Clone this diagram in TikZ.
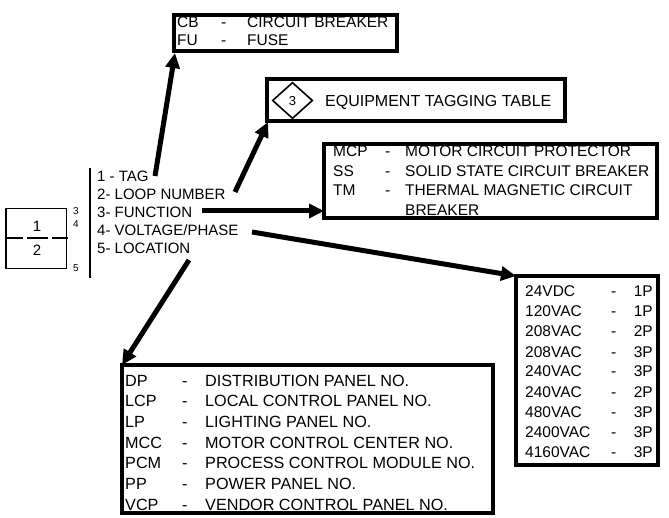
\documentclass[tikz,border=0pt]{standalone}
\usepackage{fontspec}
\setmainfont{Liberation Sans}
\usetikzlibrary{arrows.meta}
\tikzset{
  tbox/.style={draw, line width=4.5pt, inner sep=0pt, outer sep=0pt},
  tx/.style={anchor=base west, inner sep=0pt, font=\fontsize{15.5}{18}\selectfont},
  txr/.style={anchor=base east, inner sep=0pt, font=\fontsize{15.5}{18}\selectfont},
  lt/.style={anchor=base west, inner sep=0pt, font=\fontsize{16.2}{19}\selectfont},
  li/.style={anchor=base west, inner sep=0pt, font=\fontsize{15}{18}\selectfont},
  sm/.style={anchor=base, inner sep=0pt, font=\fontsize{10}{12}\selectfont},
  arr/.style={line width=5pt, -{Triangle[length=15pt,width=14pt]}},
}
\begin{document}
\begin{tikzpicture}[x=1pt,y=-1pt]
\useasboundingbox (0,0) rectangle (669,518);

% tag symbol
\node[draw, line width=1.2pt, minimum width=60.7pt, minimum height=59.6pt, inner sep=0pt] (sym) at (36.4,238.5) {};
\draw[line width=2.4pt, dash pattern=on 16.6pt off 3.6pt on 20.6pt off 4.4pt on 16.6pt off 10pt] (6.7,238.3) -- (68.3,238.3);
\node[anchor=base, inner sep=0pt, font=\fontsize{15}{18}\selectfont] (n1) at (37,231.7) {1};
\node[anchor=base, inner sep=0pt, font=\fontsize{15}{18}\selectfont] (n2) at (37,256) {2};
\node[sm] (s3) at (76,215) {3};
\node[sm] (s4) at (76,228) {4};
\node[sm] (s5) at (76,271.7) {5};
\draw[line width=1.2pt] (90,168.3) -- (90,277.7);

% list
\node[li] (l1) at (97,181.5) {1 - TAG};
\node[li] (l2) at (97,199.5) {2- LOOP NUMBER};
\node[li] (l3) at (97,217.5) {3- FUNCTION};
\node[li] (l4) at (97,235.5) {4- VOLTAGE/PHASE};
\node[li] (l5) at (97,253.5) {5- LOCATION};

% boxes
\node[tbox, minimum width=223pt, minimum height=36pt] (cb) at (285.5,33) {};
\node[tbox, minimum width=298pt, minimum height=42pt] (eq) at (416,100) {};
\node[tbox, minimum width=333pt, minimum height=74pt] (mcp) at (490.5,181) {};
\node[tbox, minimum width=142pt, minimum height=189pt] (volt) at (587,370.5) {};
\node[tbox, minimum width=371pt, minimum height=148pt] (loc) at (307.5,439) {};

% CB box text
\node[tx] (cb1a) at (177,27.5) {CB};
\node[tx] (cb1b) at (221,27.5) {-};
\node[tx] (cb1c) at (247,27.5) {CIRCUIT BREAKER};
\node[tx] (cb2a) at (177,45.5) {FU};
\node[tx] (cb2b) at (221,45.5) {-};
\node[tx] (cb2c) at (247,45.5) {FUSE};

% equipment tagging
\draw[line width=1.6pt] (272.7,100.5) -- (292.5,82.7) -- (312.3,100.5) -- (292.5,118.3) -- cycle;
\node[anchor=base, inner sep=0pt, font=\fontsize{13}{15}\selectfont] (d3) at (292.5,105.7) {3};
\node[tx, font=\fontsize{16}{19}\selectfont] (eqt) at (325,107) {EQUIPMENT TAGGING TABLE};

% MCP box text
\node[tx] (m1a) at (333,157) {MCP};
\node[tx] (m1b) at (385,157) {-};
\node[tx] (m1c) at (405,157) {MOTOR CIRCUIT PROTECTOR};
\node[tx] (m2a) at (333,176.5) {SS};
\node[tx] (m2b) at (385,176.5) {-};
\node[tx] (m2c) at (405,176.5) {SOLID STATE CIRCUIT BREAKER};
\node[tx] (m3a) at (333,196) {TM};
\node[tx] (m3b) at (385,196) {-};
\node[tx] (m3c) at (405,196) {THERMAL MAGNETIC CIRCUIT};
\node[tx] (m4c) at (405,215.5) {BREAKER};

% voltage box
\foreach \v/\p [count=\i from 0] in {24VDC/1P,120VAC/1P,208VAC/2P,208VAC/3P,240VAC/3P,240VAC/2P,480VAC/3P,2400VAC/3P,4160VAC/3P}{
  \node[tx] (va\i) at (525,297+20*\i) {\v};
  \node[tx] (vb\i) at (611,297+20*\i) {-};
  \node[txr] (vc\i) at (653,297+20*\i) {\p};
}

% location box
\foreach \a/\d [count=\i from 0] in {DP/DISTRIBUTION PANEL NO.,LCP/LOCAL CONTROL PANEL NO.,LP/LIGHTING PANEL NO.,MCC/MOTOR CONTROL CENTER NO.,PCM/PROCESS CONTROL MODULE NO.,PP/POWER PANEL NO.,VCP/VENDOR CONTROL PANEL NO.}{
  \node[lt] (la\i) at (125,386+20.7*\i) {\a};
  \node[lt] (lb\i) at (182,386+20.7*\i) {-};
  \node[lt] (lc\i) at (205,386+20.7*\i) {\d};
}

% arrows
\coordinate (a1) at (155,176);
\coordinate (a2) at (235,192);
\coordinate (a3) at (202,211);
\coordinate (a4) at (252,232);
\coordinate (a5) at (189,260);
\draw[arr] (a1) -- ([xshift=1pt,yshift=-2pt]cb.south west);
\draw[arr] (a2) -- ([xshift=1pt,yshift=-1pt]eq.south west);
\draw[arr] (a3) -- (a3 -| mcp.west);
\draw[arr] (a4) -- (volt.north west);
\draw[arr] (a5) -- (loc.north west);
\end{tikzpicture}
\end{document}
